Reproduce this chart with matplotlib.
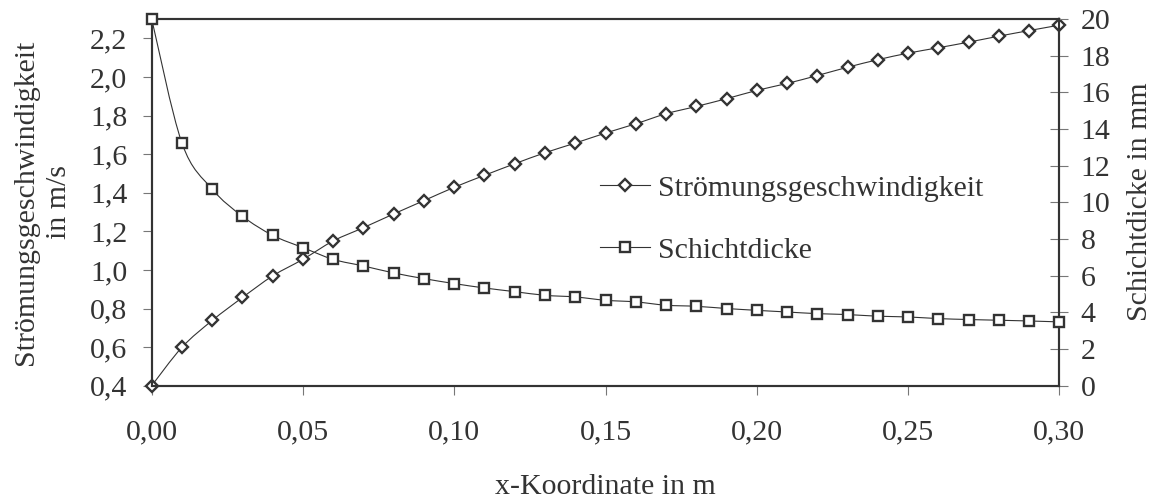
import matplotlib
matplotlib.use("Agg")
import matplotlib.pyplot as plt
from matplotlib.path import Path
from matplotlib.patches import PathPatch
from matplotlib.lines import Line2D
from matplotlib.ticker import FuncFormatter, FixedLocator
import numpy as np

# ---- data ----
x_coord = [0.00, 0.01, 0.02, 0.03, 0.04, 0.05, 0.06, 0.07, 0.08, 0.09, 0.10,
           0.11, 0.12, 0.13, 0.14, 0.15, 0.16, 0.17, 0.18, 0.19, 0.20,
           0.21, 0.22, 0.23, 0.24, 0.25, 0.26, 0.27, 0.28, 0.29, 0.30]
velocity = [0.400, 0.599, 0.738, 0.857, 0.969, 1.055, 1.150, 1.219, 1.290, 1.359, 1.428,
            1.490, 1.550, 1.607, 1.657, 1.709, 1.757, 1.809, 1.847, 1.887, 1.930,
            1.966, 2.007, 2.050, 2.089, 2.123, 2.151, 2.180, 2.211, 2.240, 2.268]
thickness = [20.0, 13.23, 10.72, 9.24, 8.20, 7.53, 6.89, 6.53, 6.15, 5.84, 5.57,
             5.33, 5.13, 4.93, 4.84, 4.66, 4.57, 4.39, 4.33, 4.21, 4.11,
             4.02, 3.93, 3.88, 3.79, 3.75, 3.66, 3.61, 3.57, 3.53, 3.48]
x_ticks = [0.00, 0.05, 0.10, 0.15, 0.20, 0.25, 0.30]
left_ticks = [0.4, 0.6, 0.8, 1.0, 1.2, 1.4, 1.6, 1.8, 2.0, 2.2]
right_ticks = [0, 2, 4, 6, 8, 10, 12, 14, 16, 18, 20]
label_velocity = "Strömungsgeschwindigkeit"
label_thickness = "Schichtdicke"
ylabel_left = "Strömungsgeschwindigkeit\nin m/s"
ylabel_right = "Schichtdicke in mm"
xlabel = "x-Koordinate in m"

# ---- style ----
plt.rcParams['font.family'] = ['Liberation Serif', 'DejaVu Serif']
FS = 21.5
TXT = '#333333'
SP = '#333333'
TK = '#777777'

W, H = 1162, 499
fig = plt.figure(figsize=(W / 100, H / 100), dpi=100)
L, R, T, B = 151.7, 1059.3, 19.0, 385.7
ax = fig.add_axes([L / W, 1 - B / H, (R - L) / W, (B - T) / H])
ax2 = ax.twinx()


def smooth_path(xs, ys):
    xs = np.asarray(xs, float)
    ys = np.asarray(ys, float)
    n = len(xs)
    verts = [(xs[0], ys[0])]
    codes = [Path.MOVETO]
    for i in range(n - 1):
        i0 = max(i - 1, 0)
        i3 = min(i + 2, n - 1)
        c1 = (xs[i] + (xs[i + 1] - xs[i0]) / 6, ys[i] + (ys[i + 1] - ys[i0]) / 6)
        c2 = (xs[i + 1] - (xs[i3] - xs[i]) / 6, ys[i + 1] - (ys[i3] - ys[i]) / 6)
        verts += [c1, c2, (xs[i + 1], ys[i + 1])]
        codes += [Path.CURVE4] * 3
    return Path(verts, codes)


LINE_W = 0.8
MEW = 1.7
# velocity on left axis
ax.add_patch(PathPatch(smooth_path(x_coord, velocity), fill=False,
                       edgecolor=SP, lw=LINE_W, zorder=2))
ax.plot(x_coord, velocity, ls='none', marker='D', ms=6.4, mfc='white',
        mec=SP, mew=MEW, zorder=3, clip_on=False)
# thickness on right axis
ax2.add_patch(PathPatch(smooth_path(x_coord, thickness), fill=False,
                        edgecolor=SP, lw=LINE_W, zorder=2))
ax2.plot(x_coord, thickness, ls='none', marker='s', ms=7.2, mfc='white',
         mec=SP, mew=MEW, zorder=3, clip_on=False)

ax.set_xlim(0, 0.30)
ax.set_ylim(0.4, 2.3)
ax2.set_ylim(0, 20)

comma = lambda fmt: FuncFormatter(lambda v, p: format(v, fmt).replace('.', ','))
ax.xaxis.set_major_locator(FixedLocator(x_ticks))
ax.xaxis.set_major_formatter(comma('.2f'))
ax.yaxis.set_major_locator(FixedLocator(left_ticks))
ax.yaxis.set_major_formatter(comma('.1f'))
ax2.yaxis.set_major_locator(FixedLocator(right_ticks))
ax2.yaxis.set_major_formatter(comma('.0f'))

for a in (ax, ax2):
    for s in a.spines.values():
        s.set_color(SP)
        s.set_linewidth(1.5)
ax.tick_params(axis='x', direction='out', length=6.5, width=0.8, color=TK,
               labelsize=FS, labelcolor=TXT, pad=18)
ax.tick_params(axis='y', direction='out', length=6.5, width=0.8, color=TK,
               labelsize=FS, labelcolor=TXT, pad=11)
ax2.tick_params(axis='y', direction='inout', length=13, width=0.8, color=TK,
                labelsize=FS, labelcolor=TXT, pad=9)

fig.text(42.5 / W, 1 - 202 / H, ylabel_left, rotation=90, ha='center',
         va='center', multialignment='center', fontsize=FS, color=TXT,
         linespacing=1.3)
fig.text(1140 / W, 1 - 202 / H, ylabel_right, rotation=90, ha='center',
         va='center', fontsize=FS, color=TXT)
fig.text(605.5 / W, 1 - 493.5 / H, xlabel, ha='center', va='baseline',
         fontsize=FS, color=TXT)

handles = [
    Line2D([], [], color=SP, lw=LINE_W, marker='D', ms=6.4, mfc='white',
           mec=SP, mew=MEW),
    Line2D([], [], color=SP, lw=LINE_W, marker='s', ms=7.2, mfc='white',
           mec=SP, mew=MEW),
]
leg = fig.legend(handles, [label_velocity, label_thickness],
                 loc='center left', bbox_to_anchor=(600 / W, 1 - 219.2 / H),
                 frameon=False, fontsize=FS, handlelength=1.68,
                 handletextpad=0.27, labelspacing=1.17, borderpad=0,
                 borderaxespad=0, numpoints=1)
for t in leg.get_texts():
    t.set_color(TXT)

fig.savefig("out.png", dpi=100)
